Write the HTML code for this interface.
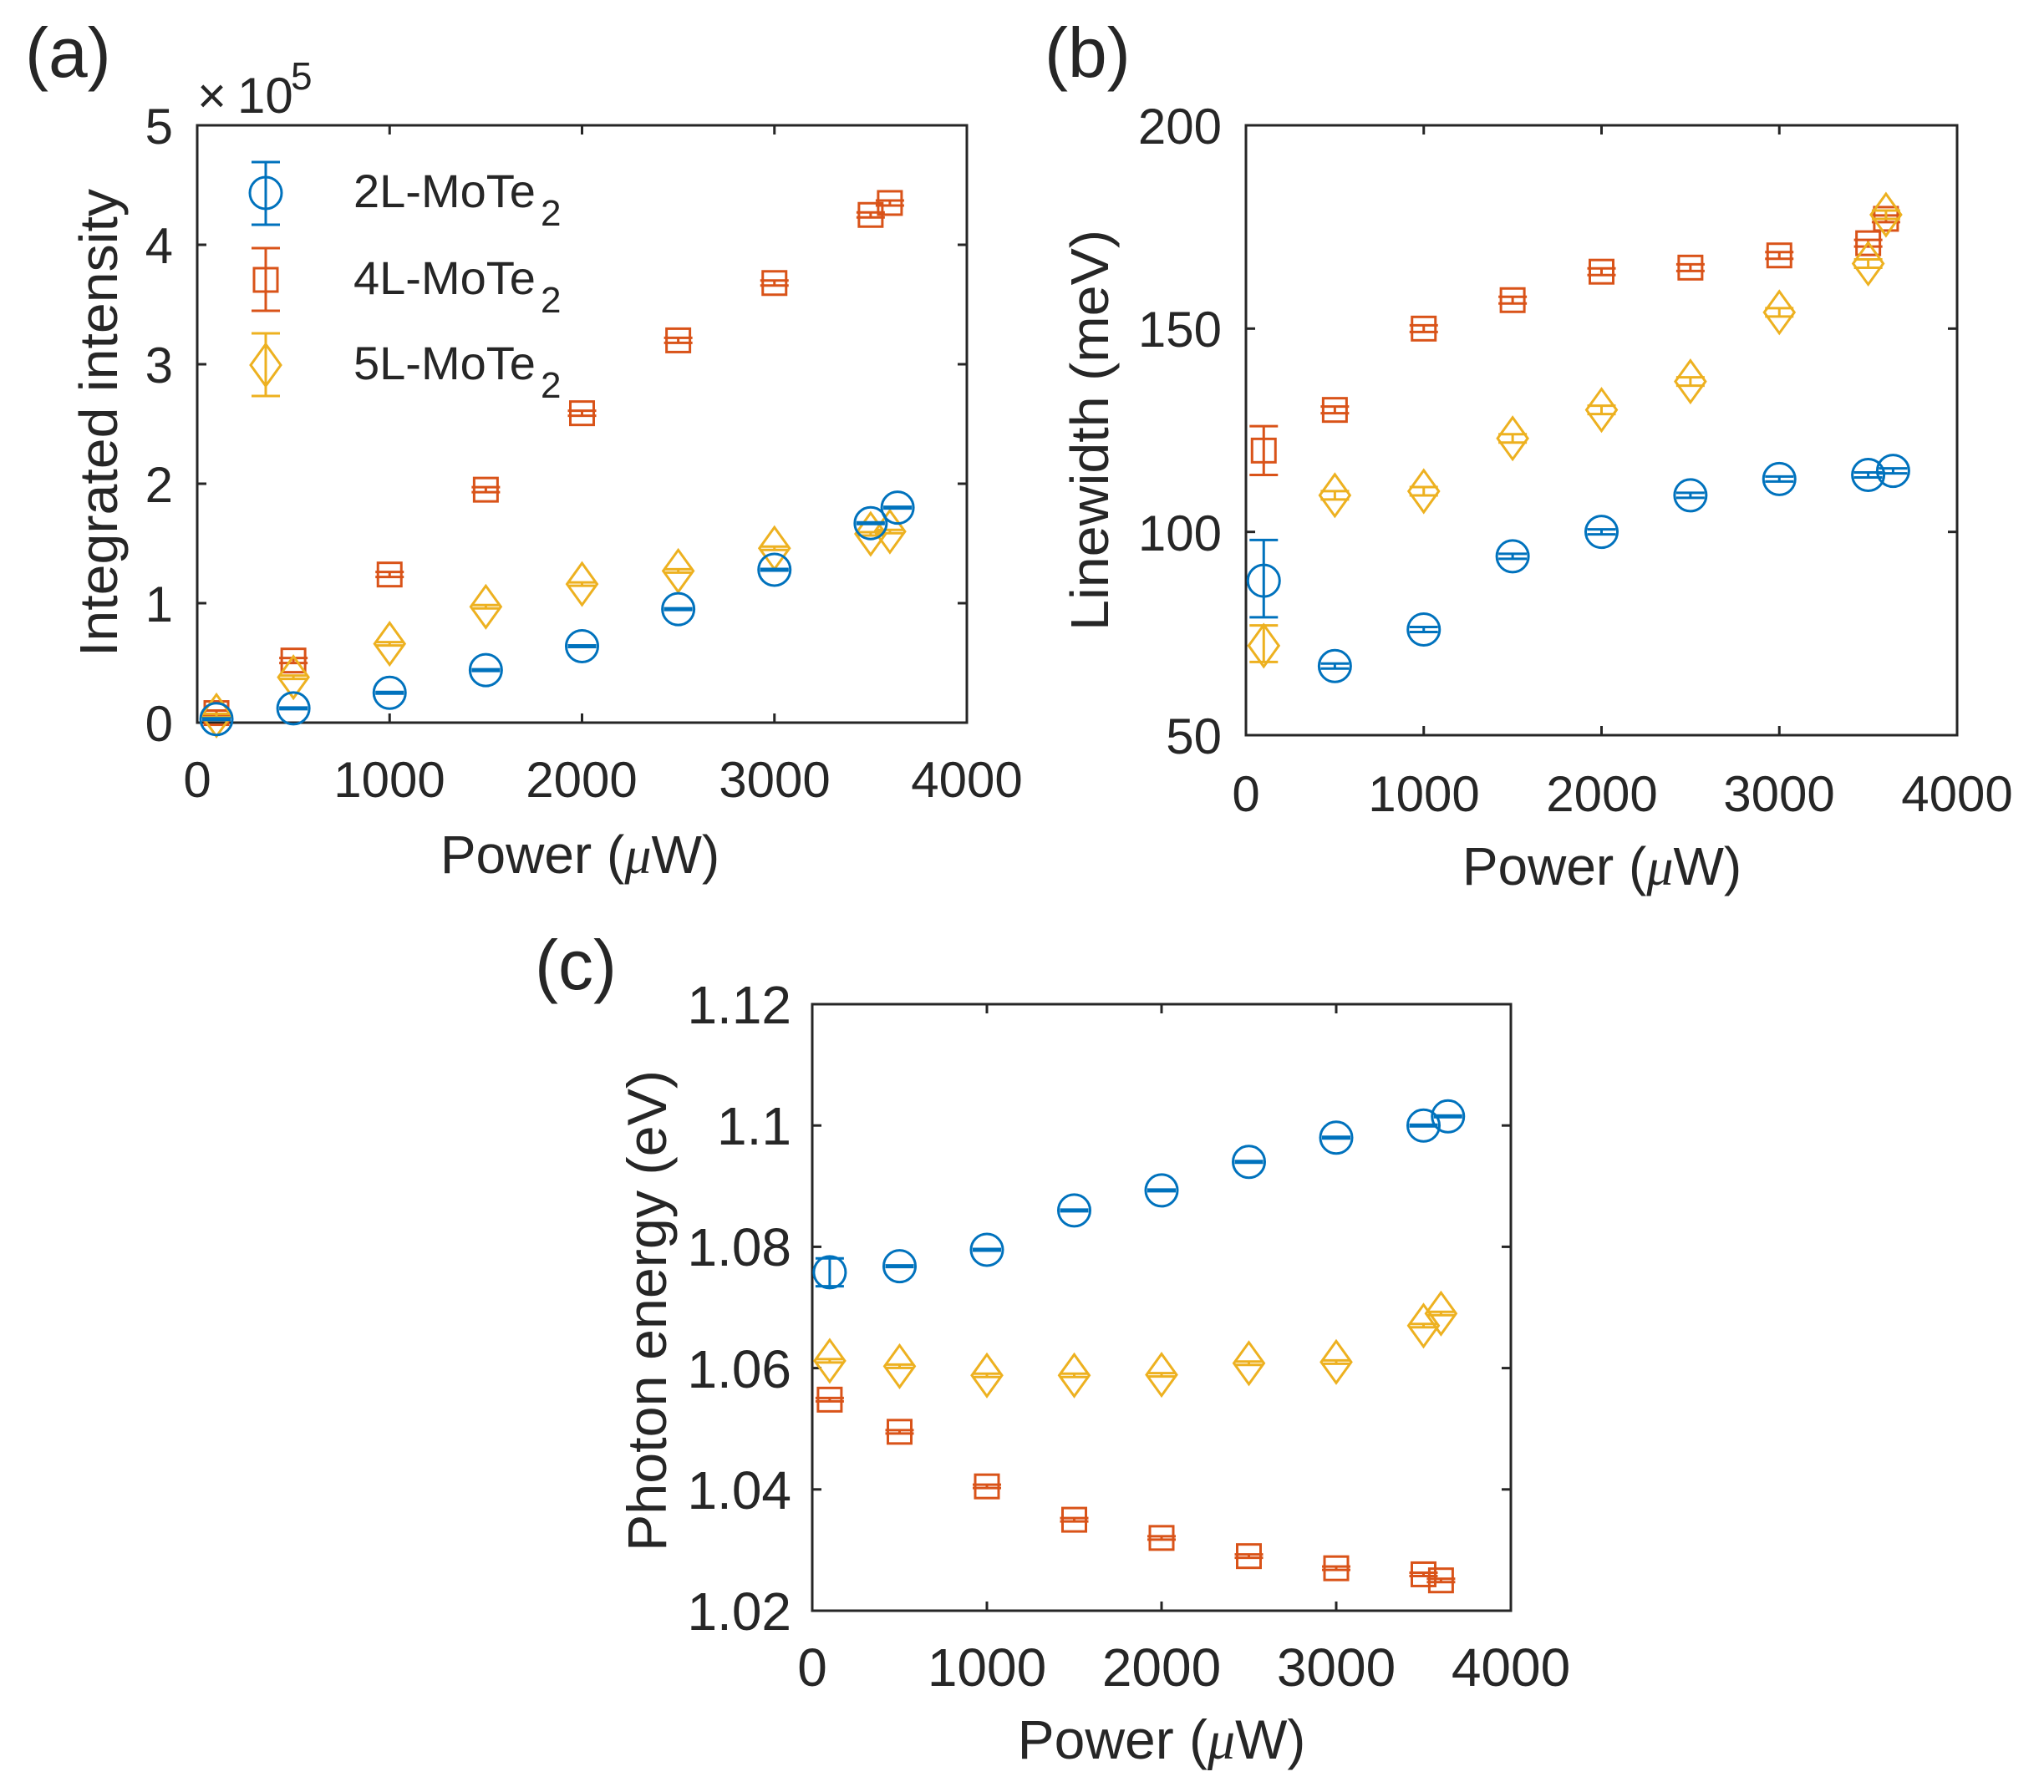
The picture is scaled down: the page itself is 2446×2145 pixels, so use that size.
<!DOCTYPE html>
<html><head><meta charset="utf-8"><style>
html,body{margin:0;padding:0;background:#fff}
svg{display:block}
text{font-family:"Liberation Sans",Arial,sans-serif;fill:#262626}
</style></head><body>
<svg id="s" width="2446" height="2145" viewBox="0 0 2446 2145" xmlns="http://www.w3.org/2000/svg">
<rect width="2446" height="2145" fill="#fff"/>
<g id="g"></g>
<!-- Panel labels -->
<text x="30" y="92" font-size="84" fill="#000">(a)</text>
<text x="1250" y="92" font-size="84" fill="#000">(b)</text>
<text x="640" y="1184" font-size="84" fill="#000">(c)</text>

<!-- Panel a text -->
<g font-size="60" text-anchor="end">
<text x="207" y="172">5</text><text x="207" y="315">4</text><text x="207" y="458">3</text>
<text x="207" y="601">2</text><text x="207" y="744">1</text><text x="207" y="887">0</text>
</g>
<g font-size="60" text-anchor="middle">
<text x="236" y="954">0</text><text x="466" y="954">1000</text><text x="696" y="954">2000</text>
<text x="927" y="954">3000</text><text x="1157" y="954">4000</text>
</g>
<text x="236" y="135" font-size="60">×</text>
<text x="284" y="135" font-size="60">10</text>
<text x="348" y="107" font-size="46">5</text>
<text x="694" y="1045" font-size="64" text-anchor="middle">Power (<tspan font-family="Liberation Serif" font-style="italic">μ</tspan>W)</text>
<text transform="translate(140,506) rotate(-90)" font-size="64" text-anchor="middle" textLength="560" lengthAdjust="spacingAndGlyphs">Integrated intensity</text>
<g font-size="56" fill="#000">
<text x="423" y="248" fill="#000">2L-MoTe</text><text x="647" y="270" font-size="44" fill="#000">2</text>
<text x="423" y="352" fill="#000">4L-MoTe</text><text x="647" y="374" font-size="44" fill="#000">2</text>
<text x="423" y="454" fill="#000">5L-MoTe</text><text x="647" y="476" font-size="44" fill="#000">2</text>
</g>

<!-- Panel b text -->
<g font-size="60" text-anchor="end">
<text x="1462" y="172">200</text><text x="1462" y="415">150</text>
<text x="1462" y="659">100</text><text x="1462" y="902">50</text>
</g>
<g font-size="60" text-anchor="middle">
<text x="1491" y="971">0</text><text x="1704" y="971">1000</text><text x="1917" y="971">2000</text>
<text x="2129" y="971">3000</text><text x="2342" y="971">4000</text>
</g>
<text x="1917" y="1059" font-size="64" text-anchor="middle">Power (<tspan font-family="Liberation Serif" font-style="italic">μ</tspan>W)</text>
<text transform="translate(1326,515) rotate(-90)" font-size="64" text-anchor="middle" textLength="480" lengthAdjust="spacingAndGlyphs">Linewidth (meV)</text>

<!-- Panel c text -->
<g font-size="64" text-anchor="end">
<text x="947" y="1225">1.12</text><text x="947" y="1370">1.1</text><text x="947" y="1515">1.08</text>
<text x="947" y="1661">1.06</text><text x="947" y="1806">1.04</text><text x="947" y="1951">1.02</text>
</g>
<g font-size="64" text-anchor="middle">
<text x="972" y="2018">0</text><text x="1181" y="2018">1000</text><text x="1390" y="2018">2000</text>
<text x="1599" y="2018">3000</text><text x="1808" y="2018">4000</text>
</g>
<text x="1390" y="2105" font-size="66" text-anchor="middle">Power (<tspan font-family="Liberation Serif" font-style="italic">μ</tspan>W)</text>
<text transform="translate(797,1569) rotate(-90)" font-size="66" text-anchor="middle" textLength="576" lengthAdjust="spacingAndGlyphs">Photon energy (eV)</text>
</svg>
<script>
const NS="http://www.w3.org/2000/svg",G=document.getElementById('g');
function el(t,a){const e=document.createElementNS(NS,t);for(const k in a)e.setAttribute(k,a[k]);G.appendChild(e);return e;}
const B='#0072BD',O='#D95319',Y='#EDB120',K='#262626';
function axes(x0,x1,y0,y1,xt,yt){
 el('rect',{x:x0,y:y0,width:x1-x0,height:y1-y0,fill:'none',stroke:K,'stroke-width':3});
 xt.forEach(x=>{el('line',{x1:x,x2:x,y1:y1,y2:y1-11,stroke:K,'stroke-width':3});el('line',{x1:x,x2:x,y1:y0,y2:y0+11,stroke:K,'stroke-width':3});});
 yt.forEach(y=>{el('line',{x1:x0,x2:x0+11,y1:y,y2:y,stroke:K,'stroke-width':3});el('line',{x1:x1,x2:x1-11,y1:y,y2:y,stroke:K,'stroke-width':3});});
}
function mk(type,c,x,y,lo,hi){
 const a={fill:'none',stroke:c,'stroke-width':3};
 if(type=='o')el('circle',Object.assign({cx:x,cy:y,r:19},a));
 else if(type=='s')el('rect',Object.assign({x:x-14,y:y-14,width:28,height:28},a));
 else el('polygon',Object.assign({points:`${x-18},${y} ${x},${y-25} ${x+18},${y} ${x},${y+25}`},a));
 el('line',Object.assign({x1:x,x2:x,y1:lo,y2:hi},a));
 el('line',Object.assign({x1:x-17,x2:x+17,y1:lo,y2:lo},a));
 el('line',Object.assign({x1:x-17,x2:x+17,y1:hi,y2:hi},a));
}
function series(X,Yf,type,c,data,defE){
 data.forEach(d=>{const x=X(d[0]),y=Yf(d[1]);let lo,hi;
  if(d.length>2){lo=Yf(d[2]);hi=Yf(d[3]);}else{lo=y-defE;hi=y+defE;}
  mk(type,c,x,y,lo,hi);});
}
// Panel a
(function(){
 const X=p=>236+p*0.23025,Yf=v=>865-v*143;
 axes(236,1157,150,865,[0,1000,2000,3000,4000].map(X),[0,1,2,3,4,5].map(Yf));
 series(X,Yf,'s',O,[[100,0.08],[500,0.52],[1000,1.24],[1500,1.95],[2000,2.59],[2500,3.20],[3000,3.68],[3500,4.25],[3600,4.35]],3);
 series(X,Yf,'d',Y,[[100,0.06],[500,0.38],[1000,0.66],[1500,0.97],[2000,1.16],[2500,1.27],[3000,1.46],[3500,1.58],[3600,1.60]],2);
 series(X,Yf,'o',B,[[100,0.03],[500,0.12],[1000,0.25],[1500,0.44],[2000,0.64],[2500,0.95],[3000,1.28],[3500,1.67],[3640,1.80]],1);
 mk('o',B,318,231,194,269);mk('s',O,318,335,297,372);mk('d',Y,318,437,399,474);
})();
// Panel b
(function(){
 const X=p=>1491+p*0.21275,Yf=v=>880-(v-50)*4.8667;
 axes(1491,2342,150,880,[0,1000,2000,3000,4000].map(X),[50,100,150,200].map(Yf));
 series(X,Yf,'s',O,[[100,120,114,126],[500,130],[1000,150],[1500,157],[2000,164],[2500,165],[3000,168],[3500,171],[3600,177]],4);
 series(X,Yf,'d',Y,[[100,72,68,77],[500,109],[1000,110],[1500,123],[2000,130],[2500,137],[3000,154],[3500,166],[3600,178]],5);
 series(X,Yf,'o',B,[[100,88,79,98],[500,67],[1000,76],[1500,94],[2000,100],[2500,109],[3000,113],[3500,114],[3640,115]],3);
})();
// Panel c
(function(){
 const X=p=>972+p*0.209,Yf=v=>1928-(v-1.02)*7260;
 axes(972,1808,1202,1928,[0,1000,2000,3000,4000].map(X),[1.02,1.04,1.06,1.08,1.1,1.12].map(Yf));
 series(X,Yf,'s',O,[[100,1.0548],[500,1.0495],[1000,1.0405],[1500,1.035],[2000,1.032],[2500,1.029],[3000,1.027],[3500,1.026],[3600,1.025]],2);
 series(X,Yf,'d',Y,[[100,1.0612],[500,1.0603],[1000,1.0588],[1500,1.0588],[2000,1.0589],[2500,1.0608],[3000,1.061],[3500,1.067],[3600,1.069]],2);
 series(X,Yf,'o',B,[[100,1.0758,1.0735,1.0781],[500,1.0768],[1000,1.0795],[1500,1.086],[2000,1.0893],[2500,1.094],[3000,1.098],[3500,1.100],[3640,1.1015]],1);
})();
</script>
</body></html>
